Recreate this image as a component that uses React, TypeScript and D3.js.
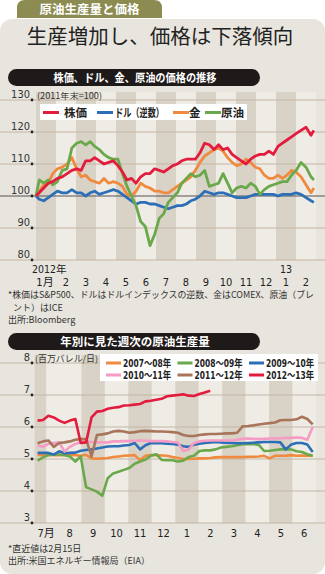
import React from 'react';
import * as d3 from 'd3';

const W = 325;
const H = 574;

// ---------- Chart 1: price index (2011 year-end = 100) ----------
const months1 = ['1月', '2', '3', '4', '5', '6', '7', '8', '9', '10', '11', '12', '1', '2'];
const yTicks1 = [80, 90, 100, 110, 120, 130];
const dates1 = [
  '2012-01-01', '2012-01-06', '2012-01-13', '2012-01-20', '2012-01-27',
  '2012-02-03', '2012-02-10', '2012-02-17', '2012-02-24',
  '2012-03-02', '2012-03-09', '2012-03-16', '2012-03-23', '2012-03-30',
  '2012-04-06', '2012-04-13', '2012-04-20', '2012-04-27',
  '2012-05-04', '2012-05-11', '2012-05-18', '2012-05-25',
  '2012-06-01', '2012-06-08', '2012-06-15', '2012-06-22', '2012-06-29',
  '2012-07-06', '2012-07-13', '2012-07-20', '2012-07-27',
  '2012-08-03', '2012-08-10', '2012-08-17', '2012-08-24', '2012-08-31',
  '2012-09-07', '2012-09-14', '2012-09-21', '2012-09-28',
  '2012-10-05', '2012-10-12', '2012-10-19', '2012-10-26',
  '2012-11-02', '2012-11-09', '2012-11-16', '2012-11-23', '2012-11-30',
  '2012-12-07', '2012-12-14', '2012-12-21', '2012-12-28',
  '2013-01-04', '2013-01-11', '2013-01-18', '2013-01-25',
  '2013-02-01', '2013-02-08', '2013-02-15', '2013-02-22', '2013-02-26',
];
const stock = [
  100, 101, 102.5, 104, 104.5,
  105.5, 106, 107, 108,
  108.5, 108, 111, 111, 112,
  111, 110, 110.5, 111,
  109.5, 107.5, 105, 105.5,
  104, 106, 107, 107, 108.5,
  108, 107.5, 108.5, 109.5,
  110, 111, 111.5, 111.5, 111.5,
  113.5, 116.5, 116, 114.5,
  116, 114.5, 115, 113,
  112, 111, 110, 111.5, 112.5,
  113, 113, 114, 113,
  115.5, 116.5, 117.5, 118.5,
  119.5, 120.5, 121.5, 119, 120.5,
];
const dollarInv = [
  100, 99, 98.5, 99.5, 100.5,
  101.5, 101, 101, 102,
  101, 101, 100, 101, 101.5,
  100.5, 101, 101.5, 102,
  101.5, 100.5, 99.5, 98.5,
  97.5, 98, 98, 97.5, 97.5,
  97, 96.5, 96, 96.5,
  97, 97, 97.5, 98.5, 99,
  100, 101.5, 101, 100.5,
  101, 101, 100.5, 100,
  99.5, 99.5, 99.5, 100, 100.5,
  100.5, 100.5, 100.5, 100.5,
  100, 100.5, 100.5, 100.5,
  101, 100.5, 99.5, 98.5, 98,
];
const gold = [
  100, 101.5, 103.5, 104, 107,
  108.5, 109, 110, 112,
  108.5, 106, 106.5, 105, 104.5,
  104, 105.5, 104, 104.5,
  104, 103, 100.5, 100,
  101.5, 104, 103, 102.5, 101.5,
  101.5, 101, 101, 102,
  103, 104, 105, 106, 108,
  110.5, 112.5, 113.5, 114.5,
  115, 114, 112, 110.5,
  109.5, 110, 111.5, 110.5, 109,
  108.5, 106.5, 105.5, 105.5,
  106.5, 105.5, 106.5, 108,
  107.5, 106, 103.5, 101, 102.5,
];
const oil = [
  100, 105, 104, 105, 103.5,
  104.5, 108, 108.5, 115,
  116.5, 117, 116, 117, 115.5,
  114.5, 113, 112, 111.5,
  111.5, 107, 103, 100,
  97, 92, 90.5, 84.5, 88,
  93, 94.5, 98, 99.5,
  101, 104, 105.5, 107, 106,
  106.5, 108, 103, 103.5,
  104, 107, 104, 101,
  102.5, 103, 102.5, 104, 103,
  100.5, 102, 103, 103.5,
  104, 104.5, 104.5, 106.5,
  108, 110.5, 109, 106, 105,
];

// ---------- Chart 2: weekly US crude production by year (million bbl/day) ----------
const months2 = ['7月', '8', '9', '10', '11', '12', '1', '2', '3', '4', '5', '6'];
const yTicks2 = [3, 4, 5, 6, 7, 8];
const y0708 = [
  5.13, 5.13, 5.13, 5.12, 5.12, 5.13, 5.13, 5.12, 5.1, 5.13,
  5.02, 5.01, 5.02, 5.03, 5.06, 5.08, 5.1, 5.11, 5.12, 4.96,
  5.1, 5.12, 5.12, 5.11, 5.1, 5.06, 5.03, 5.0, 5.0, 5.01,
  5.02, 5.02, 5.03, 5.05, 5.06, 5.06, 5.06, 5.06, 5.06, 5.07,
  5.07, 5.08, 5.1, 5.02, 5.1, 5.1, 5.1, 5.12, 5.1, 5.11,
  5.1, 5.1,
];
const y0809 = [
  4.95, 5.05, 5.12, 5.15, 5.14, 5.12, 5.08, 4.92, 5.08, 4.12,
  4.05, 3.98, 3.85, 4.4, 4.55, 4.6, 4.66, 4.72, 4.85, 4.92,
  4.98, 5.1, 5.15, 4.97, 4.96, 4.96, 4.92, 4.95, 5.06, 5.1,
  5.25, 5.27, 5.27, 5.3, 5.36, 5.38, 5.4, 5.43, 5.46, 5.46,
  5.47, 5.44, 5.25, 5.26, 5.28, 5.3, 5.31, 5.3, 5.24, 5.22,
  5.15, 5.1,
];
const y0910 = [
  5.19, 5.19, 5.19, 5.14, 5.24, 5.18, 5.19, 5.2, 5.26, 5.28,
  5.3, 5.33, 5.36, 5.39, 5.4, 5.4, 5.42, 5.44, 5.5, 5.3,
  5.43, 5.5, 5.49, 5.49, 5.48, 5.47, 5.45, 5.4, 5.38, 5.45,
  5.48, 5.5, 5.52, 5.53, 5.52, 5.51, 5.5, 5.49, 5.49, 5.5,
  5.51, 5.52, 5.53, 5.53, 5.53, 5.52, 5.3, 5.45, 5.5, 5.5,
  5.45, 5.22,
];
const y1011 = [
  5.42, 5.38, 5.47, 5.5, 5.52, 5.23, 5.38, 5.47, 5.52, 5.55,
  5.53, 5.52, 5.52, 5.52, 5.55, 5.55, 5.56, 5.56, 5.57, 5.58,
  5.57, 5.56, 5.56, 5.56, 5.55, 5.53, 5.52, 5.25, 5.3, 5.5,
  5.55, 5.57, 5.58, 5.58, 5.58, 5.58, 5.58, 5.6, 5.63, 5.64,
  5.63, 5.62, 5.63, 5.64, 5.64, 5.65, 5.66, 5.66, 5.67, 5.66,
  5.6, 6.0,
];
const y1112 = [
  5.49, 5.55, 5.58, 5.38, 5.5, 5.52, 5.55, 5.6, 5.62, 5.62,
  5.08, 5.75, 5.77, 5.8, 5.86, 5.88, 5.86, 5.82, 5.84, 5.87,
  5.88, 5.87, 5.86, 5.86, 5.85, 5.84, 5.82, 5.75, 5.72, 5.72,
  5.75, 5.77, 5.78, 5.78, 5.79, 5.8, 5.8, 5.82, 6.02, 6.03,
  6.05, 6.08, 6.1, 6.12, 6.14, 6.21, 6.22, 6.22, 6.24, 6.32,
  6.25, 6.08,
];
const y1213 = [
  6.2, 6.22, 6.35, 6.3, 6.2, 6.13, 6.2, 6.25, 5.5, 5.52,
  6.3, 6.48, 6.5, 6.57, 6.6, 6.62, 6.67, 6.68, 6.7, 6.72,
  6.8, 6.82, 6.85, 6.88, 6.96, 6.98, 7.0, 7.02, 6.98, 6.97,
  7.03, 7.08, 7.13,
];

const C = {
  red: '#e31b3c',
  blue: '#2d6fb7',
  orange: '#ef8a3e',
  green: '#6aa94b',
  pink: '#f59bc4',
  brown: '#a8745a',
};

const series1 = [
  { name: 'ドル（逆数）', values: dollarInv, color: C.blue },
  { name: '金', values: gold, color: C.orange },
  { name: '原油', values: oil, color: C.green },
  { name: '株価', values: stock, color: C.red },
];
const series2 = [
  { name: '2007〜08年', values: y0708, color: C.orange },
  { name: '2008〜09年', values: y0809, color: C.green },
  { name: '2009〜10年', values: y0910, color: C.blue },
  { name: '2010〜11年', values: y1011, color: C.pink },
  { name: '2011〜12年', values: y1112, color: C.brown },
  { name: '2012〜13年', values: y1213, color: C.red },
];

const JP = "'Noto Sans CJK JP', 'Noto Sans', sans-serif";
const NUM = "'DejaVu Sans Condensed', 'Noto Sans CJK JP', sans-serif";

const toMonth = (s: string) => {
  const [y, m, d] = s.split('-').map(Number);
  const dim = new Date(y, m, 0).getDate();
  return (y - 2012) * 12 + (m - 1) + (d - 1) / dim;
};

export default function App() {
  const panelBg = '#e8e5de';
  const lightBand = '#efece6';
  const darkBand = '#d9d2c6';
  const grid = '#c4b6a4';

  // chart 1 scales
  const x1 = d3.scaleLinear().domain([0, 14]).range([36, 316]);
  const y1 = d3.scaleLinear().domain([80, 130]).range([260, 100]);
  const line1 = d3
    .line<number>()
    .x((_, i) => x1(toMonth(dates1[i])))
    .y((v) => y1(v));

  // chart 2 scales
  const x2 = d3.scaleLinear().domain([0, 12]).range([34.5, 316]);
  const y2 = d3.scaleLinear().domain([3, 8]).range([523, 363]);
  const weekToMonth = (w: number) => (w * 7 + 4) / 30.44;
  const line2 = d3
    .line<number>()
    .x((_, i) => x2(weekToMonth(i)))
    .y((v) => y2(v));

  const bands1 = d3.range(14).map((i) => ({ i, dark: i % 2 === 0 }));
  const bands2 = d3.range(12).map((i) => ({ i }));

  const legend1 = [
    { name: '株価', color: C.red, lx: 43, tx: 64, tl: 0 },
    { name: 'ドル（逆数）', color: C.blue, lx: 97, tx: 115, tl: 49 },
    { name: '金', color: C.orange, lx: 173, tx: 189, tl: 0 },
    { name: '原油', color: C.green, lx: 205, tx: 221, tl: 0 },
  ];

  return (
    <svg
      width={W}
      height={H}
      viewBox={`0 0 ${W} ${H}`}
      style={{ position: 'absolute', left: 0, top: 0, background: '#fff' }}
    >
      {/* tab */}
      <path d="M17,18 L17,8 Q17,0 25,0 L154,0 Q162,0 162,8 L162,18 Z" fill="#8c8c52" />
      <text x={89.5} y={14} textAnchor="middle" fill="#fff" fontFamily={JP} fontWeight={700} fontSize={12.5}>
        原油生産量と価格
      </text>
      {/* panel */}
      <rect x={0} y={19} width={W} height={H - 19} rx={12} fill={panelBg} />
      <text x={160} y={44} textAnchor="middle" fill="#222" fontFamily={JP} fontWeight={400} fontSize={20.5}>
        生産増加し、価格は下落傾向
      </text>

      {/* pill 1 */}
      <rect x={8} y={69} width={252} height={17} rx={8.5} fill="#1f1a1a" />
      <text x={135} y={82} textAnchor="middle" fill="#fff" fontFamily={JP} fontWeight={700} fontSize={11.5} textLength={163} lengthAdjust="spacingAndGlyphs">
        株価、ドル、金、原油の価格の推移
      </text>

      {/* chart 1 bands */}
      {bands1.map((b) => (
        <rect key={b.i} x={x1(b.i)} y={92} width={x1(b.i + 1) - x1(b.i)} height={y1(80) - 92} fill={b.dark ? darkBand : lightBand} />
      ))}
      {yTicks1.map((t) => (
        <g key={t}>
          <line x1={0} x2={W} y1={y1(t)} y2={y1(t)} stroke={t === 100 ? '#555' : grid} strokeWidth={1} />
          <circle cx={32} cy={y1(t)} r={1.4} fill="#222" />
          <text x={30} y={y1(t) - 2.5} textAnchor="end" fill="#333" fontFamily={NUM} fontSize={11}>
            {t}
          </text>
        </g>
      ))}
      <text x={37} y={99} fill="#333" fontFamily={JP} fontSize={8.5} textLength={65} lengthAdjust="spacingAndGlyphs">
        (2011年末=100)
      </text>
      {/* legend 1 */}
      <rect x={40} y={104} width={207} height={16} fill="#fff" />
      {legend1.map((l) => (
        <g key={l.name}>
          <line x1={l.lx} x2={l.lx + 16} y1={112.5} y2={112.5} stroke={l.color} strokeWidth={3} />
          <text x={l.tx} y={117} fill="#222" fontFamily={JP} fontWeight={700} fontSize={11.5} {...(l.tl ? { textLength: l.tl, lengthAdjust: 'spacingAndGlyphs' } : {})}>
            {l.name}
          </text>
        </g>
      ))}
      {/* lines 1 */}
      {series1.map((s) => (
        <path key={s.name} d={line1(s.values) || ''} fill="none" stroke={s.color} strokeWidth={2.8} strokeLinejoin="round" />
      ))}
      {/* x axis 1 */}
      <text x={32} y={272.5} fill="#222" fontFamily={NUM} fontSize={10.5}>2012年</text>
      <text x={x1(12.5)} y={272.5} textAnchor="middle" fill="#222" fontFamily={NUM} fontSize={10.5}>13</text>
      {months1.map((m, i) => (
        <text key={i} x={x1(i + 0.5) + (i === 0 ? -1 : 0)} y={285.5} textAnchor="middle" fill="#222" fontFamily={NUM} fontSize={11}>
          {m}
        </text>
      ))}
      <text x={8} y={298} fill="#333" fontFamily={JP} fontSize={9} textLength={306} lengthAdjust="spacingAndGlyphs">
        *株価はS&amp;P500、ドルはドルインデックスの逆数、金はCOMEX、原油（ブレ
      </text>
      <text x={13} y={310.5} fill="#333" fontFamily={JP} fontSize={9}>
        ント）はICE
      </text>
      <text x={8} y={323} fill="#333" fontFamily={JP} fontSize={9}>
        出所:Bloomberg
      </text>

      {/* pill 2 */}
      <rect x={8} y={333} width={252} height={17} rx={8.5} fill="#1f1a1a" />
      <text x={135} y={346} textAnchor="middle" fill="#fff" fontFamily={JP} fontWeight={700} fontSize={11.5}>
        年別に見た週次の原油生産量
      </text>

      {/* chart 2 bands */}
      {bands2.map((b) => {
        const dark = b.i % 2 === 0;
        const xa = x2(b.i);
        const xb = b.i === 0 ? x2(0.5) : x2(b.i + 1);
        return (
          <g key={b.i}>
            <rect x={xa} y={355} width={x2(b.i + 1) - xa} height={y2(3) - 355} fill={lightBand} />
            {dark && <rect x={xa} y={355} width={xb - xa} height={y2(3) - 355} fill={darkBand} />}
          </g>
        );
      })}
      {yTicks2.map((t) => (
        <g key={t}>
          <line x1={0} x2={W} y1={y2(t)} y2={y2(t)} stroke={grid} strokeWidth={1} />
          <circle cx={32} cy={y2(t)} r={1.4} fill="#222" />
          <text x={30} y={y2(t) - 2.5} textAnchor="end" fill="#333" fontFamily={NUM} fontSize={11}>
            {t}
          </text>
        </g>
      ))}
      <text x={35} y={362} fill="#333" fontFamily={JP} fontSize={9} textLength={63} lengthAdjust="spacingAndGlyphs">
        (百万バレル/日)
      </text>
      {/* legend 2 */}
      <rect x={100} y={354} width={218} height={27} fill="#fff" />
      {series2.map((s, i) => {
        const col = i % 3;
        const row = Math.floor(i / 3);
        const lx = 106 + col * 71.5;
        const ly = 363 + row * 12;
        return (
          <g key={s.name}>
            <line x1={lx} x2={lx + 15} y1={ly} y2={ly} stroke={s.color} strokeWidth={3} />
            <text x={lx + 17} y={ly + 4} fill="#222" fontFamily={NUM} fontWeight={700} fontSize={10.5} textLength={48} lengthAdjust="spacingAndGlyphs">
              {s.name}
            </text>
          </g>
        );
      })}
      {/* lines 2 */}
      {series2.map((s) => (
        <path key={s.name} d={line2(s.values) || ''} fill="none" stroke={s.color} strokeWidth={2.6} strokeLinejoin="round" />
      ))}
      {months2.map((m, i) => (
        <text key={i} x={x2(i + 0.5)} y={537} textAnchor="middle" fill="#222" fontFamily={NUM} fontSize={11}>
          {m}
        </text>
      ))}
      <text x={8} y={551.5} fill="#333" fontFamily={JP} fontSize={9}>
        *直近値は2月15日
      </text>
      <text x={8} y={564} fill="#333" fontFamily={JP} fontSize={9}>
        出所:米国エネルギー情報局（EIA）
      </text>
    </svg>
  );
}
